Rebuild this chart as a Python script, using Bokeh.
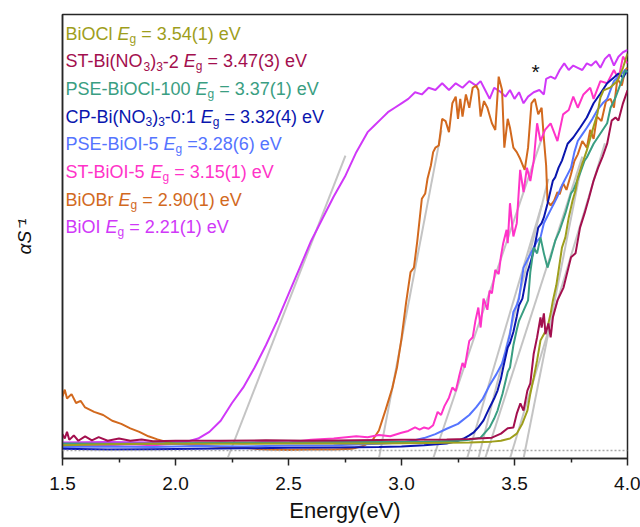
from bokeh.plotting import figure
from bokeh.models import ColumnDataSource, FixedTicker, Span, CustomJSTickFormatter
from bokeh.embed import file_html
from bokeh.resources import INLINE
from bokeh.core.properties import value

FONT = "Liberation Sans"

# ---------------- data (energy in eV, alpha/S in normalised units) ----------------
x_ticks = [1.5, 2.0, 2.5, 3.0, 3.5, 4.0]
x_tick_labels = ["1.5", "2.0", "2.5", "3.0", "3.5", "4.0"]
x_minor = [1.75, 2.25, 2.75, 3.25, 3.75]

biooi_x = [1.50, 1.70, 1.90, 2.05, 2.10, 2.15, 2.20, 2.25, 2.30, 2.35, 2.40, 2.45, 2.50, 2.55, 2.60,
           2.65, 2.70, 2.75, 2.80, 2.85, 2.88, 2.91, 2.94, 2.97, 3.00, 3.03, 3.06, 3.09, 3.12, 3.15,
           3.18, 3.21, 3.24, 3.27, 3.30, 3.33, 3.35, 3.37, 3.39, 3.41, 3.44, 3.46, 3.48, 3.50, 3.52,
           3.54, 3.56, 3.585, 3.61, 3.63, 3.64, 3.66, 3.68, 3.70, 3.72, 3.74, 3.76, 3.78, 3.80, 3.82,
           3.84, 3.86, 3.88, 3.90, 3.92, 3.94, 3.96, 3.98, 4.00]
biooi_y = [0.036, 0.037, 0.036, 0.038, 0.045, 0.06, 0.085, 0.125, 0.16, 0.205, 0.255, 0.31, 0.37, 0.43, 0.49,
           0.54, 0.59, 0.635, 0.69, 0.735, 0.75, 0.765, 0.78, 0.79, 0.80, 0.81, 0.825, 0.82, 0.835, 0.83,
           0.845, 0.83, 0.845, 0.835, 0.85, 0.84, 0.85, 0.83, 0.81, 0.835, 0.825, 0.815, 0.83, 0.81, 0.825,
           0.80, 0.815, 0.825, 0.83, 0.82, 0.855, 0.86, 0.855, 0.875, 0.89, 0.875, 0.885, 0.88, 0.875, 0.89,
           0.885, 0.895, 0.88, 0.90, 0.91, 0.885, 0.905, 0.915, 0.92]

biobr_x = [1.50, 1.51, 1.52, 1.54, 1.56, 1.58, 1.60, 1.64, 1.68, 1.72, 1.76, 1.80, 1.84, 1.88, 1.92, 1.96,
           2.00, 2.10, 2.20, 2.30, 2.40, 2.50, 2.60, 2.70, 2.78, 2.83, 2.87, 2.90, 2.93, 2.96, 2.98,
           3.00, 3.02, 3.04, 3.055, 3.07, 3.09, 3.105, 3.115, 3.13, 3.14, 3.15, 3.165, 3.18, 3.195, 3.21,
           3.225, 3.24, 3.25, 3.26, 3.27, 3.285, 3.30, 3.315, 3.33, 3.34, 3.35, 3.365, 3.38, 3.40, 3.415,
           3.43, 3.445, 3.455, 3.47, 3.48, 3.495, 3.51, 3.525, 3.545, 3.56, 3.575, 3.59, 3.605, 3.62, 3.63,
           3.64, 3.646, 3.66, 3.675, 3.69, 3.70, 3.715, 3.73, 3.75, 3.765, 3.78, 3.80, 3.82, 3.835, 3.85,
           3.865, 3.885, 3.905, 3.925, 3.94, 3.955, 3.975, 3.99, 4.00]
biobr_y = [0.14, 0.155, 0.135, 0.145, 0.125, 0.13, 0.115, 0.105, 0.098, 0.085, 0.078, 0.068, 0.06, 0.05, 0.043, 0.037,
           0.034, 0.03, 0.026, 0.024, 0.02, 0.019, 0.02, 0.02, 0.022, 0.028, 0.04, 0.063, 0.11, 0.16, 0.205,
           0.27, 0.35, 0.42, 0.43, 0.49, 0.585, 0.597, 0.63, 0.66, 0.69, 0.70, 0.705, 0.765, 0.76, 0.735,
           0.80, 0.815, 0.765, 0.81, 0.77, 0.82, 0.79, 0.835, 0.84, 0.83, 0.77, 0.805, 0.79, 0.755, 0.74,
           0.86, 0.83, 0.70, 0.765, 0.745, 0.70, 0.69, 0.675, 0.65, 0.70, 0.80, 0.81, 0.775, 0.79, 0.72,
           0.66, 0.58, 0.57, 0.58, 0.60, 0.595, 0.62, 0.605, 0.64, 0.67, 0.685, 0.715, 0.70, 0.74, 0.72,
           0.77, 0.76, 0.805, 0.81, 0.79, 0.855, 0.84, 0.875, 0.88]

stbioi_x = [1.50, 1.60, 1.70, 1.80, 1.90, 2.00, 2.10, 2.20, 2.30, 2.40, 2.50, 2.60, 2.70, 2.80, 2.85,
            2.90, 2.95, 3.00, 3.03, 3.06, 3.08, 3.10, 3.12, 3.14, 3.16, 3.175, 3.19, 3.21, 3.225, 3.24,
            3.255, 3.27, 3.28, 3.29, 3.30, 3.315, 3.327, 3.34, 3.35, 3.363, 3.38, 3.39, 3.40, 3.415, 3.43,
            3.44, 3.45, 3.465, 3.47, 3.48, 3.495, 3.51, 3.525, 3.54, 3.555, 3.57, 3.585, 3.60, 3.615, 3.635,
            3.66, 3.69, 3.715, 3.74, 3.76, 3.78, 3.805, 3.835, 3.85, 3.88, 3.91, 3.94, 3.96, 3.98, 4.00]
stbioi_y = [0.032, 0.028, 0.03, 0.032, 0.03, 0.033, 0.032, 0.036, 0.034, 0.038, 0.036, 0.042, 0.045, 0.05, 0.048,
            0.053, 0.05, 0.058, 0.062, 0.07, 0.065, 0.07, 0.067, 0.075, 0.105, 0.098, 0.118, 0.137, 0.16, 0.152,
            0.185, 0.215, 0.205, 0.236, 0.265, 0.273, 0.31, 0.34, 0.295, 0.36, 0.335, 0.378, 0.372, 0.425, 0.415,
            0.455, 0.485, 0.515, 0.485, 0.575, 0.50, 0.53, 0.65, 0.60, 0.655, 0.625, 0.67, 0.755, 0.715, 0.74,
            0.755, 0.715, 0.775, 0.785, 0.815, 0.79, 0.82, 0.835, 0.81, 0.85, 0.845, 0.875, 0.855, 0.905, 0.89]

psebioi_x = [1.50, 1.70, 1.90, 2.10, 2.30, 2.50, 2.70, 2.90, 3.00, 3.05, 3.10, 3.15, 3.20, 3.25, 3.30,
             3.33, 3.36, 3.39, 3.42, 3.445, 3.46, 3.47, 3.48, 3.495, 3.51, 3.52, 3.54, 3.56, 3.585, 3.60,
             3.615, 3.63, 3.645, 3.66, 3.675, 3.69, 3.705, 3.72, 3.735, 3.75, 3.765, 3.78, 3.80, 3.82, 3.845,
             3.867, 3.89, 3.91, 3.925, 3.94, 3.97, 3.99, 4.00]
psebioi_y = [0.026, 0.027, 0.026, 0.028, 0.027, 0.029, 0.03, 0.033, 0.036, 0.04, 0.046, 0.055, 0.067, 0.078, 0.098,
             0.115, 0.135, 0.165, 0.19, 0.214, 0.24, 0.26, 0.28, 0.33, 0.345, 0.36, 0.43, 0.45, 0.475, 0.49,
             0.498, 0.53, 0.545, 0.56, 0.575, 0.59, 0.61, 0.625, 0.64, 0.655, 0.69, 0.715, 0.73, 0.745, 0.765,
             0.785, 0.80, 0.81, 0.83, 0.85, 0.865, 0.875, 0.87]

cp_x = [1.50, 1.70, 1.90, 2.10, 2.30, 2.50, 2.70, 2.90, 3.00, 3.10, 3.20, 3.25, 3.275, 3.30, 3.32,
        3.34, 3.363, 3.39, 3.41, 3.425, 3.44, 3.45, 3.47, 3.48, 3.495, 3.51, 3.52, 3.535, 3.557, 3.57,
        3.585, 3.605, 3.62, 3.63, 3.646, 3.67, 3.68, 3.695, 3.71, 3.735, 3.76, 3.79, 3.82, 3.85, 3.88,
        3.91, 3.94, 3.96, 3.98, 4.00]
cp_y = [0.022, 0.02, 0.021, 0.022, 0.023, 0.024, 0.025, 0.026, 0.027, 0.03, 0.034, 0.04, 0.045, 0.052, 0.059,
        0.07, 0.086, 0.115, 0.135, 0.153, 0.18, 0.205, 0.25, 0.26, 0.285, 0.32, 0.345, 0.36, 0.42, 0.44,
        0.468, 0.52, 0.53, 0.543, 0.574, 0.626, 0.633, 0.655, 0.671, 0.709, 0.723, 0.745, 0.768, 0.80, 0.822,
        0.845, 0.858, 0.867, 0.858, 0.874]

psebiocl_x = [1.50, 1.70, 1.90, 2.10, 2.30, 2.50, 2.70, 2.90, 3.10, 3.25, 3.30, 3.35, 3.39, 3.41, 3.425,
              3.447, 3.47, 3.48, 3.495, 3.51, 3.52, 3.54, 3.56, 3.57, 3.585, 3.60, 3.615, 3.63, 3.646, 3.66,
              3.68, 3.70, 3.725, 3.75, 3.76, 3.79, 3.81, 3.82, 3.85, 3.88, 3.91, 3.925, 3.947, 3.97, 3.99, 4.00]
psebiocl_y = [0.034, 0.033, 0.034, 0.035, 0.036, 0.036, 0.037, 0.037, 0.038, 0.04, 0.042, 0.047, 0.07, 0.09, 0.108,
              0.146, 0.195, 0.205, 0.255, 0.29, 0.31, 0.333, 0.356, 0.42, 0.475, 0.462, 0.498, 0.462, 0.43, 0.453,
              0.49, 0.514, 0.552, 0.597, 0.604, 0.642, 0.671, 0.678, 0.709, 0.732, 0.755, 0.79, 0.813, 0.845, 0.874, 0.87]

biocl_x = [1.50, 1.70, 1.90, 2.10, 2.30, 2.50, 2.70, 2.90, 3.10, 3.30, 3.40, 3.44, 3.48, 3.51, 3.535,
           3.557, 3.57, 3.585, 3.60, 3.615, 3.63, 3.646, 3.66, 3.67, 3.685, 3.695, 3.71, 3.725, 3.74, 3.757,
           3.77, 3.78, 3.80, 3.82, 3.845, 3.867, 3.88, 3.894, 3.925, 3.956, 3.98, 4.00]
biocl_y = [0.03, 0.032, 0.033, 0.033, 0.033, 0.034, 0.034, 0.034, 0.035, 0.036, 0.038, 0.04, 0.045, 0.056, 0.079,
           0.108, 0.146, 0.182, 0.221, 0.266, 0.28, 0.295, 0.327, 0.356, 0.39, 0.423, 0.475, 0.498, 0.543, 0.581,
           0.604, 0.633, 0.664, 0.694, 0.739, 0.777, 0.813, 0.829, 0.836, 0.851, 0.88, 0.912]

stbino3_x = [1.50, 1.51, 1.52, 1.53, 1.55, 1.57, 1.60, 1.63, 1.66, 1.70, 1.75, 1.80, 1.85, 1.90, 2.00,
             2.20, 2.40, 2.60, 2.80, 3.00, 3.20, 3.30, 3.40, 3.44, 3.47, 3.495, 3.51, 3.526, 3.54, 3.557,
             3.57, 3.585, 3.60, 3.615, 3.62, 3.63, 3.637, 3.65, 3.66, 3.67, 3.69, 3.717, 3.75, 3.77, 3.79,
             3.81, 3.83, 3.85, 3.87, 3.89, 3.91, 3.93, 3.947, 3.96, 3.98, 4.00]
stbino3_y = [0.055, 0.045, 0.06, 0.042, 0.052, 0.04, 0.05, 0.041, 0.048, 0.04, 0.045, 0.04, 0.043, 0.039, 0.04,
             0.04, 0.041, 0.04, 0.041, 0.042, 0.043, 0.044, 0.047, 0.056, 0.068, 0.07, 0.101, 0.124, 0.108, 0.153,
             0.169, 0.236, 0.273, 0.318, 0.295, 0.327, 0.28, 0.304, 0.273, 0.318, 0.356, 0.385, 0.453, 0.462, 0.52,
             0.552, 0.588, 0.626, 0.655, 0.68, 0.709, 0.761, 0.768, 0.761, 0.80, 0.829]

# Tauc-type linear fits: x-intercept and upper end point
fit_x0 = [2.23, 2.90, 3.14, 3.29, 3.34, 3.37, 3.48, 3.54]
fit_x1 = [2.752, 3.177, 3.62, 3.62, 3.65, 3.80, 3.90, 3.80]
fit_y1 = [0.682, 0.739, 0.72, 0.57, 0.63, 0.68, 0.71, 0.67]

dotted_level = 0.018

legend_names = ["BiOCl", "ST-Bi(NO3)3-2", "PSE-BiOCl-100", "CP-Bi(NO3)3-0:1",
                "PSE-BiOI-5", "ST-BiOI-5", "BiOBr", "BiOI"]
legend_eg = [" = 3.54(1) eV", " = 3.47(3) eV", " = 3.37(1) eV", " = 3.32(4) eV",
             " =3.28(6) eV", " = 3.15(1) eV", " = 2.90(1) eV", " = 2.21(1) eV"]
legend_colors = ["#9E9E1C", "#A30F4E", "#3A9E82", "#0A16AE", "#5574FF", "#FF33C8", "#D2691E", "#D038F8"]

series = [
    (biooi_x, biooi_y, "#D038F8"),
    (biobr_x, biobr_y, "#D2691E"),
    (stbioi_x, stbioi_y, "#FF33C8"),
    (psebioi_x, psebioi_y, "#5574FF"),
    (cp_x, cp_y, "#0A16AE"),
    (psebiocl_x, psebiocl_y, "#3A9E82"),
    (biocl_x, biocl_y, "#9E9E1C"),
    (stbino3_x, stbino3_y, "#A30F4E"),
]

# ---------------- figure ----------------
p = figure(frame_width=565, frame_height=444, x_range=(1.5, 4.0), y_range=(0, 1),
           output_backend="svg", toolbar_location=None,
           min_border_left=62, min_border_right=13, min_border_top=14, min_border_bottom=69)
p.xgrid.visible = False
p.ygrid.visible = False
p.outline_line_color = "#262626"
p.outline_line_width = 1.5
p.background_fill_color = "white"

xa = p.xaxis[0]
xa.ticker = FixedTicker(ticks=x_ticks, minor_ticks=x_minor)
xa.formatter = CustomJSTickFormatter(args=dict(tvals=x_ticks, tlabels=x_tick_labels), code="""
    for (let i = 0; i < tvals.length; i++) { if (Math.abs(tvals[i] - tick) < 1e-9) return tlabels[i]; }
    return '';
""")
xa.major_tick_out = 7
xa.major_tick_in = 0
xa.minor_tick_out = 4
xa.minor_tick_in = 0
xa.major_tick_line_width = 1.5
xa.minor_tick_line_width = 1.5
xa.major_tick_line_color = "#262626"
xa.minor_tick_line_color = "#262626"
xa.axis_line_width = 1.5
xa.axis_line_color = "#262626"
xa.major_label_text_font = FONT
xa.major_label_text_font_size = "19px"
xa.major_label_text_color = "#111111"
xa.major_label_standoff = 11
xa.axis_label = "Energy(eV)"
xa.axis_label_text_font = FONT
xa.axis_label_text_font_size = "22px"
xa.axis_label_text_font_style = "normal"
xa.axis_label_text_color = "#111111"
xa.axis_label_standoff = 5

ya = p.yaxis[0]
ya.ticker = FixedTicker(ticks=[])
ya.major_tick_out = 0
ya.major_tick_in = 0
ya.minor_tick_out = 0
ya.minor_tick_in = 0
ya.major_label_standoff = 0
ya.axis_line_width = 1.5
ya.axis_line_color = "#262626"
ya.axis_label = "αS⁻¹"
ya.axis_label_text_font = FONT
ya.axis_label_text_font_size = "19px"
ya.axis_label_text_font_style = "italic"
ya.axis_label_text_color = "#111111"
ya.axis_label_standoff = 28

# dotted reference line
p.add_layout(Span(location=dotted_level, dimension="width", line_color="#A8A8A8",
                  line_dash="2 2", line_width=1.5))

# fit lines
p.segment(x0=fit_x0, y0=[0.0] * len(fit_x0), x1=fit_x1, y1=fit_y1,
          line_color="#C4C4C4", line_width=2)

for sx, sy, col in series:
    p.line(sx, sy, line_color=col, line_width=2)

# asterisk
p.text(x=[3.593], y=[0.872], text=["*"], text_font=value(FONT), text_font_size="21px",
       text_color="#111111", text_align="center", text_baseline="middle")

# ---------------- legend (coloured text, composed in pieces) ----------------
AW = {' ': 278, '(': 333, ')': 333, '-': 333, '.': 278, ':': 278, '=': 584,
      'B': 667, 'C': 722, 'E': 667, 'I': 278, 'N': 722, 'O': 778, 'P': 667, 'S': 667,
      'T': 611, 'V': 667, 'e': 556, 'g': 556, 'i': 222, 'l': 222, 'r': 333}


def tw(s, size):
    return sum(AW.get(c, 556) for c in s) * size / 1000.0


FS, SS, SUB_DY = 18, 12, 5
X0, Y0, DY = 3, 19, 27.7

cols = {k: dict(x=[], y=[], text=[], xo=[], yo=[], color=[]) for k in ("n", "i", "s")}


def put(kind, txt, xo, yo, color):
    d = cols[kind]
    d["x"].append(1.5)
    d["y"].append(1.0)
    d["text"].append(txt)
    d["xo"].append(xo)
    d["yo"].append(yo)
    d["color"].append(color)


for k, (name, eg, color) in enumerate(zip(legend_names, legend_eg, legend_colors)):
    base = Y0 + DY * k
    xo = X0
    parts = []
    buf = ""
    for i, c in enumerate(name):
        if c == "3" and i > 0 and name[i - 1] in "O)":
            if buf:
                parts.append(("n", buf))
                buf = ""
            parts.append(("s", "3"))
        else:
            buf += c
    buf += " "
    parts.append(("n", buf))
    parts += [("i", "E"), ("s", "g"), ("n", eg)]
    for kind, txt in parts:
        size = SS if kind == "s" else FS
        lead = len(txt) - len(txt.lstrip(" "))
        xo += tw(" " * lead, size)
        body = txt.strip(" ")
        if body:
            put(kind, body, xo, base + (SUB_DY if kind == "s" else 0), color)
        xo += tw(txt[lead:], size)

for kind, size, style in (("n", FS, "normal"), ("i", FS, "italic"), ("s", SS, "normal")):
    src = ColumnDataSource(cols[kind])
    p.text(x="x", y="y", text="text", x_offset="xo", y_offset="yo", text_color="color",
           text_font=value(FONT), text_font_size=f"{size}px", text_font_style=style,
           text_align="left", text_baseline="alphabetic", source=src)

open("out.html", "w").write(file_html(p, INLINE))
